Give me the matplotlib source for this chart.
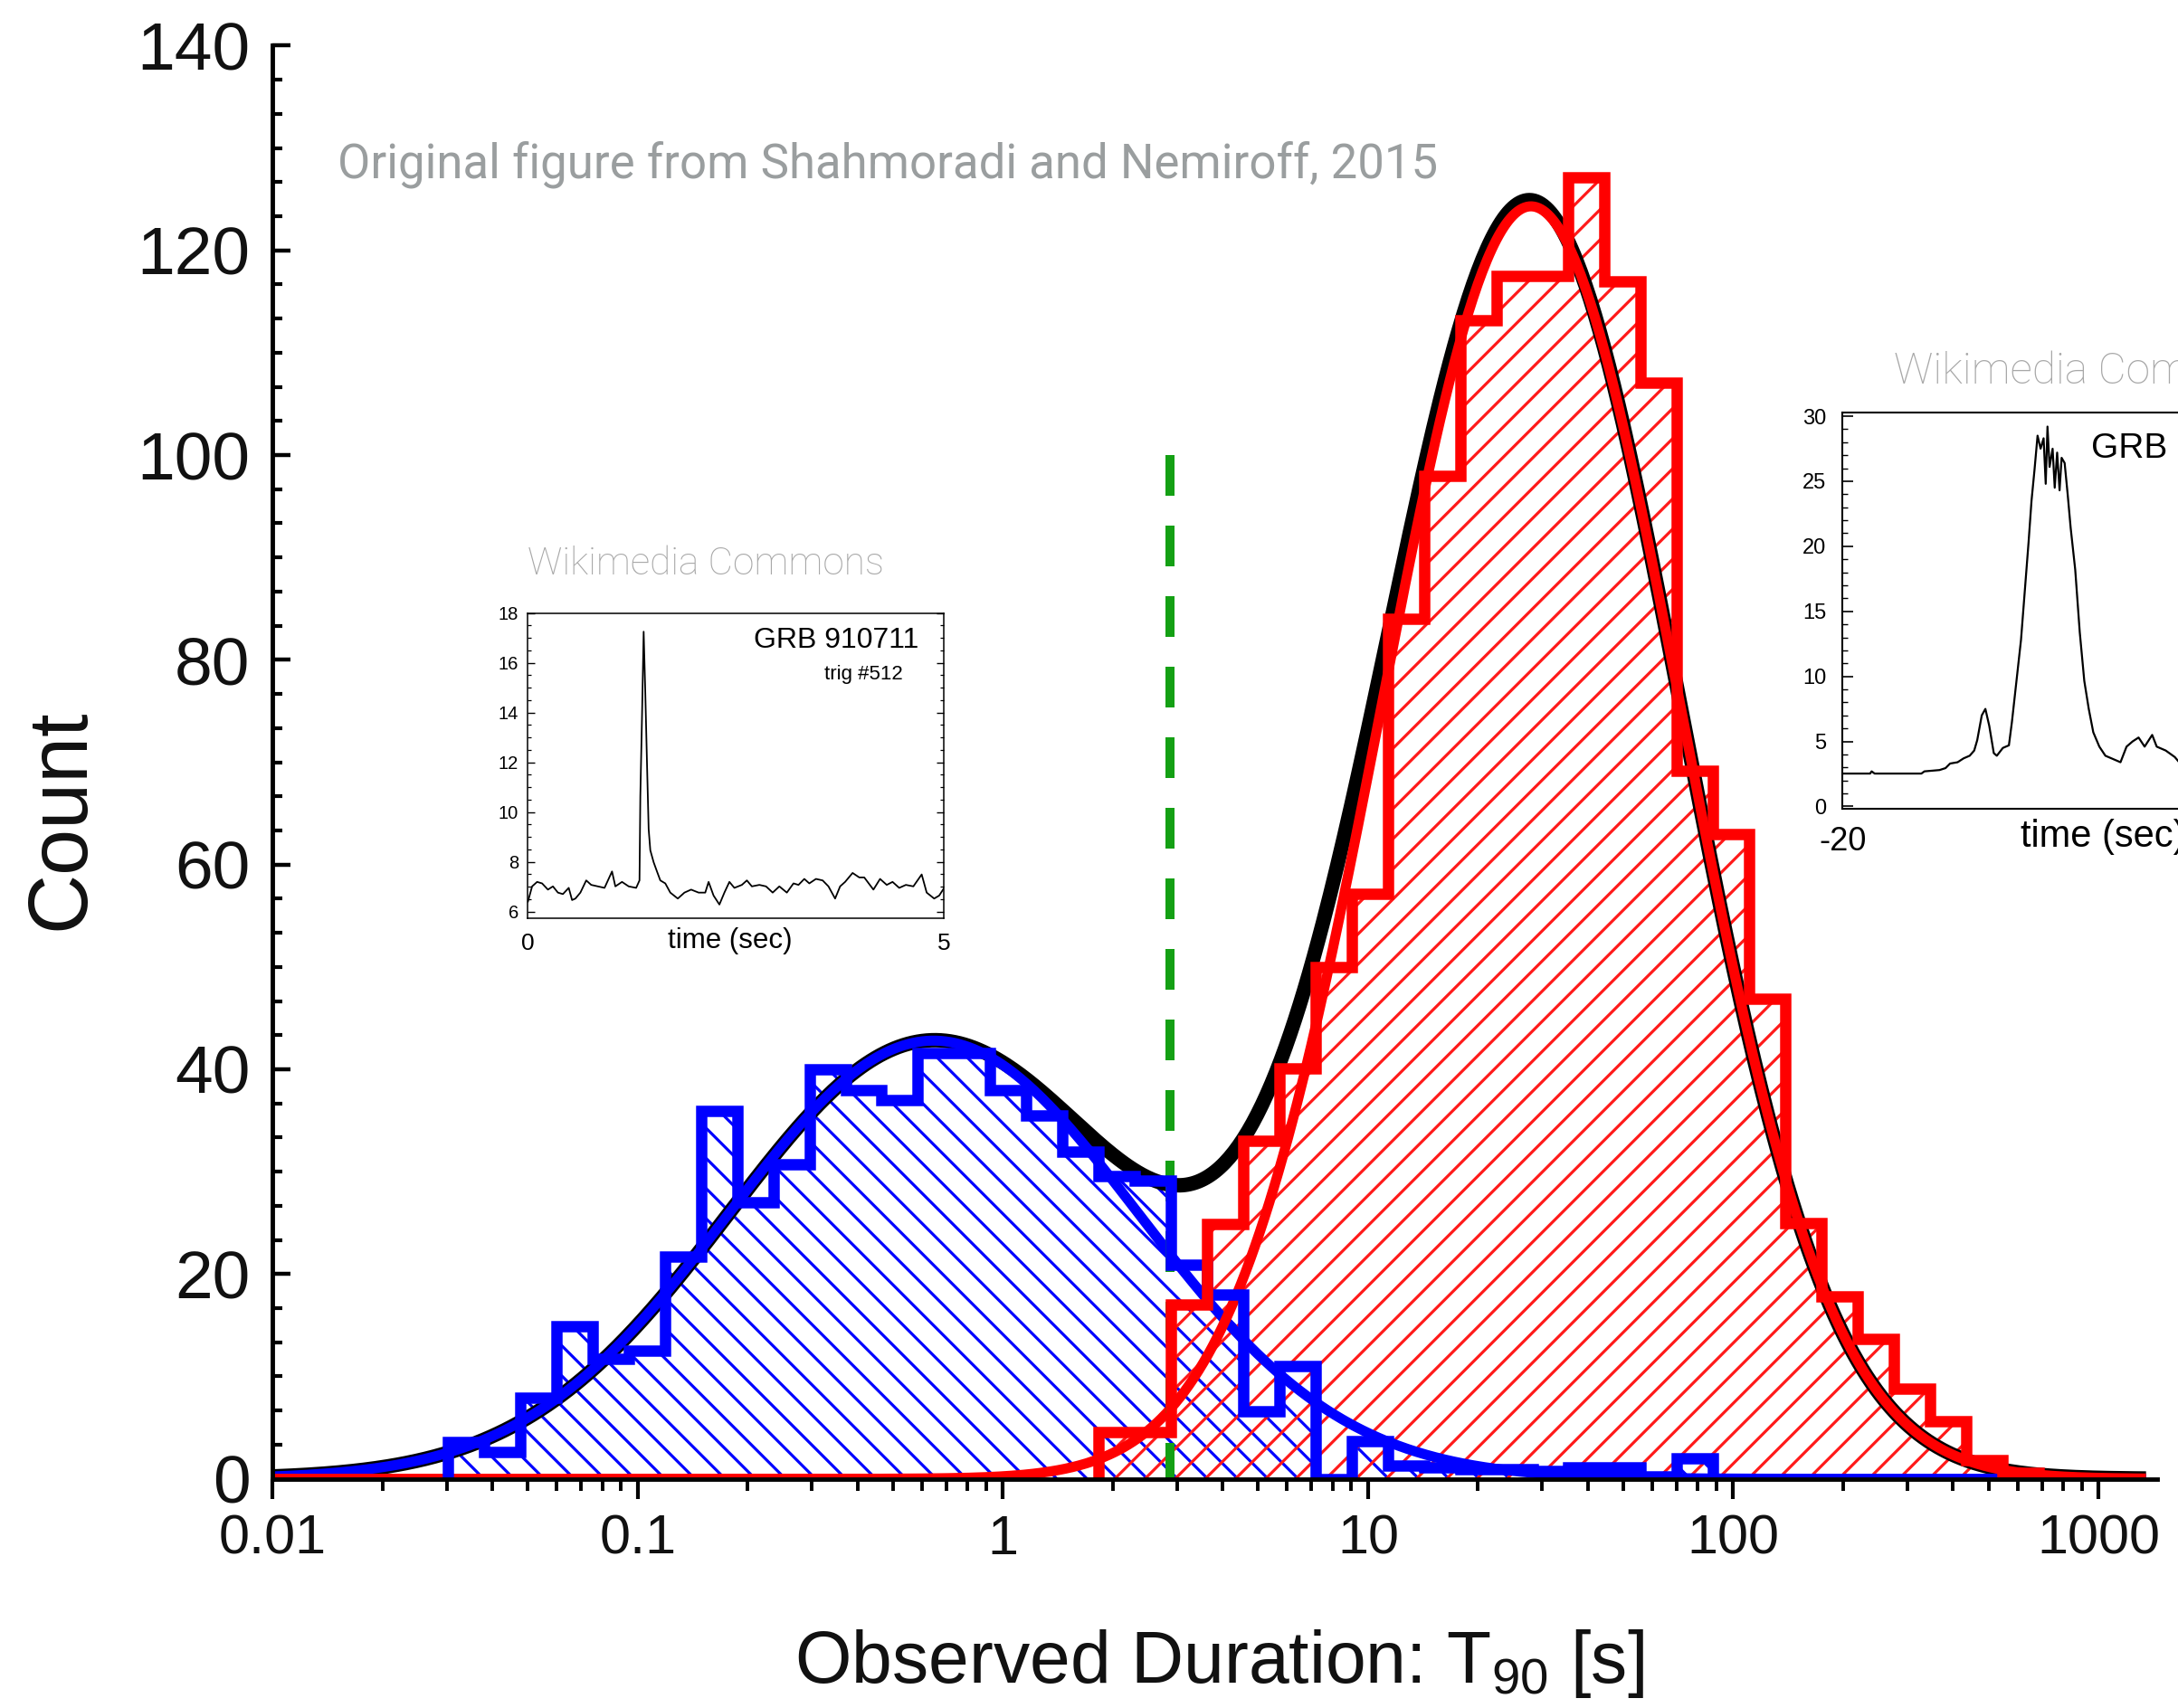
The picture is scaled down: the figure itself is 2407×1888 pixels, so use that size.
### Bimodal T90 distribution of BATSE gamma-ray bursts, with two light-curve insets ###

### IMPORTING LIBRARIES ###
import numpy as np
import matplotlib
matplotlib.use('Agg')
import matplotlib.pyplot as plt
from matplotlib.ticker import FixedLocator, MultipleLocator, LogLocator, NullFormatter

plt.rcParams['font.family'] = ['Liberation Sans', 'DejaVu Sans']
plt.rcParams['mathtext.fontset'] = 'custom'
plt.rcParams['mathtext.rm'] = 'Liberation Sans'
plt.rcParams['mathtext.it'] = 'Liberation Sans:italic'
plt.rcParams['hatch.linewidth'] = 2.3

### DATA ###
# both histograms share one grid of log10(T90) bins
bin_start = -1.52
bin_width = 0.099

short_first_bin = 0
short_counts = [3.6, 2.6, 7.9, 14.9, 11.7, 12.5, 21.7, 35.9, 27.0, 30.7,
                40.0, 38.0, 37.0, 41.6, 41.6, 38.0, 35.5, 32.0, 29.6, 29.1,
                20.9, 18.0, 6.6, 11.0, 0.0, 3.7, 1.3, 1.1, 0.9, 0.9,
                0.8, 1.1, 1.1, 0.2, 2.0]

long_first_bin = 18
long_counts = [4.6, 4.6, 17.0, 24.9, 33.0, 40.1, 50.0, 57.1, 84.0, 98.0,
               113.2, 117.5, 117.5, 127.1, 117.0, 107.1, 69.2, 63.0, 46.9, 25.0,
               17.8, 13.7, 8.8, 5.6, 1.8, 0.6]

# log-normal fits: amplitude, log10 mean, log10 sigma
short_fit = (42.8, -0.19, 0.56)
long_fit = (124.3, 1.446, 0.41)
fit_range = (0.01, 1350)

divide_t90 = 2.87
divide_top = 100

yticks = [0, 20, 40, 60, 80, 100, 120, 140]
xticks = [0.01, 0.1, 1, 10, 100, 1000]
xticklabels = ['0.01', '0.1', '1', '10', '100', '1000']

# GRB 910711 (short burst) light curve
short_grb_time = [0, 0.05, 0.11, 0.17, 0.24, 0.30, 0.36, 0.42, 0.49, 0.53,
                  0.57, 0.63, 0.70, 0.76, 0.84, 0.92, 1.01, 1.05, 1.13, 1.21,
                  1.30, 1.34, 1.35, 1.37, 1.39, 1.41, 1.43, 1.45, 1.47, 1.51,
                  1.55, 1.59, 1.65, 1.71, 1.80, 1.88, 1.96, 2.05, 2.13, 2.17,
                  2.23, 2.30, 2.36, 2.42, 2.48, 2.57, 2.63, 2.69, 2.78, 2.86,
                  2.94, 3.02, 3.11, 3.19, 3.25, 3.32, 3.38, 3.46, 3.54, 3.61,
                  3.69, 3.75, 3.81, 3.90, 3.98, 4.04, 4.15, 4.23, 4.31, 4.38,
                  4.46, 4.54, 4.63, 4.73, 4.79, 4.88, 4.94, 5.0]
short_grb_rate = [6.40, 7.01, 7.19, 7.13, 6.88, 7.01, 6.76, 6.70, 6.95, 6.46,
                  6.52, 6.76, 7.25, 7.07, 7.01, 6.95, 7.61, 7.01, 7.19, 7.01,
                  6.95, 7.25, 10.64, 13.79, 17.25, 14.76, 11.98, 9.31, 8.46, 7.98,
                  7.61, 7.25, 7.13, 6.76, 6.52, 6.76, 6.88, 6.76, 6.76, 7.19,
                  6.64, 6.28, 6.76, 7.19, 6.95, 7.07, 7.25, 7.01, 7.07, 7.01,
                  6.76, 7.01, 6.76, 7.13, 7.07, 7.31, 7.13, 7.31, 7.25, 7.01,
                  6.52, 7.01, 7.19, 7.55, 7.37, 7.37, 6.88, 7.31, 7.07, 7.19,
                  6.95, 7.07, 7.01, 7.49, 6.76, 6.52, 6.64, 6.95]

# long burst light curve (right inset, cut by the figure edge)
long_grb_time = [-20, -15.78, -15.55, -15.09, -7.98, -7.51, -5.22, -4.30, -3.61, -2.47,
                 -1.55, -0.63, 0.06, 0.52, 1.21, 1.76, 2.35, 3.04, 3.50, 4.42,
                 5.34, 5.80, 6.49, 7.18, 7.64, 8.33, 8.78, 9.24, 9.70, 10.16,
                 10.62, 10.94, 11.21, 11.53, 11.99, 12.31, 12.68, 13.05, 13.36, 13.82,
                 14.28, 14.74, 15.43, 16.12, 16.81, 17.49, 18.18, 19.10, 20.02, 20.94,
                 22.32, 23.24, 24.16, 25.07, 25.99, 27.14, 27.83, 29.20, 30.58, 31.08]
long_grb_rate = [2.53, 2.53, 2.70, 2.53, 2.53, 2.70, 2.80, 2.95, 3.30, 3.40,
                 3.70, 3.90, 4.30, 5.10, 7.00, 7.50, 6.20, 4.10, 3.90, 4.50,
                 4.70, 6.50, 9.65, 12.8, 15.8, 20.3, 23.5, 25.9, 28.5, 27.5,
                 28.3, 24.8, 29.2, 26.1, 27.5, 24.5, 27.2, 24.3, 26.8, 26.4,
                 24.0, 21.4, 18.2, 13.4, 9.65, 7.50, 5.70, 4.60, 3.90, 3.70,
                 3.40, 4.60, 5.00, 5.30, 4.60, 5.50, 4.60, 4.30, 3.80, 3.50]


### HELPERS ###
def bin_edges(first_bin, n_bins):
    k = np.arange(first_bin, first_bin + n_bins + 1)
    return 10 ** (bin_start + bin_width * k)


def lognormal(x, fit):
    amp, mu, sigma = fit
    return amp * np.exp(-(np.log10(x) - mu) ** 2 / (2 * sigma ** 2))


### FIGURE ###
fig = plt.figure(figsize=(24.07, 18.88), dpi=100)
ax = fig.add_axes([0.1252, 0.1342, 0.8748, 0.8391])
ax.set_xscale('log')
ax.set_xlim(0.01, 1652)
ax.set_ylim(0, 140)

short_edges = bin_edges(short_first_bin, len(short_counts))
long_edges = bin_edges(long_first_bin, len(long_counts))

### HATCHED AREAS ###
ax.stairs(short_counts, short_edges, fill=True, facecolor='none',
          edgecolor='#0000ff', linewidth=0, hatch='\\', zorder=1)
ax.stairs(long_counts, long_edges, fill=True, facecolor='none',
          edgecolor='#ff1a1a', linewidth=0, hatch='/', zorder=1.1)

### FIT CURVES ###
x_fit = np.logspace(np.log10(fit_range[0]), np.log10(fit_range[1]), 800)
short_curve = lognormal(x_fit, short_fit)
long_curve = lognormal(x_fit, long_fit)
ax.plot(x_fit, short_curve + long_curve, color='black', lw=11.5, zorder=2,
        solid_capstyle='butt')
ax.plot(x_fit, short_curve, color='#0000ff', lw=8, zorder=3, solid_capstyle='butt')
ax.plot(x_fit, long_curve, color='#ff0000', lw=8, zorder=3, solid_capstyle='butt')

### DIVIDING LINE ###
ax.plot([divide_t90, divide_t90], [divide_top, 0], color='#14a014', lw=7.2,
        linestyle=(0, (4.5, 3.3)), dash_capstyle='butt', zorder=3.5)

### HISTOGRAM OUTLINES ###
ax.stairs(short_counts, short_edges, baseline=0, color='#0000ff', linewidth=9,
          joinstyle='miter', zorder=4)
ax.stairs(long_counts, long_edges, baseline=0, color='#ff0000', linewidth=9,
          joinstyle='miter', zorder=4.1)

### AXES STYLE ###
for side in ['top', 'right']:
    ax.spines[side].set_visible(False)
ax.spines['left'].set_linewidth(3.5)
ax.spines['bottom'].set_linewidth(3.5)
ax.spines['bottom'].set_bounds(0.01, 1450)
ax.spines['left'].set_zorder(5)
ax.spines['bottom'].set_zorder(5)

ax.yaxis.set_major_locator(FixedLocator(yticks))
ax.yaxis.set_minor_locator(MultipleLocator(20 / 6))
ax.tick_params(axis='y', which='major', direction='in', length=14.5, width=3.2,
               labelsize=54, pad=18, labelcolor='#111111')
ax.tick_params(axis='y', which='minor', direction='in', length=8, width=3)

ax.xaxis.set_major_locator(FixedLocator(xticks))
ax.set_xticklabels(xticklabels)
ax.xaxis.set_minor_locator(LogLocator(base=10, subs=np.arange(2, 10)))
ax.xaxis.set_minor_formatter(NullFormatter())
ax.tick_params(axis='x', which='major', direction='out', length=16, width=3,
               labelsize=44, pad=12, labelcolor='#111111')
ax.tick_params(axis='x', which='minor', direction='out', length=9.5, width=2.8)

fig.text(0.0382, 0.520, 'Count', rotation=90, rotation_mode='anchor',
         ha='center', va='baseline', fontsize=66, color='#111111')
fig.text(0.5596, 0.0146, 'Observed Duration: T$_{90}$ [s]', ha='center',
         va='baseline', fontsize=58, color='#111111')

### CREDIT TEXTS ###
fig.text(373 / 2407, 0.8959, 'Original figure from Shahmoradi and Nemiroff, 2015',
         fontsize=38, color='#9a9e9f', family='Roboto', va='baseline')
fig.text(0.2424, 0.6637, 'Wikimedia Commons', fontsize=30.5, color='#a8a8a8',
         family='Roboto', fontweight='light', va='baseline')
fig.text(0.8696, 0.7756, 'Wikimedia Commons', fontsize=34.5, color='#a8a8a8',
         family='Roboto', fontweight='light', va='baseline')

### LEFT INSET: SHORT BURST ###
ins1 = fig.add_axes([0.2424, 0.4624, 0.1911, 0.1787])
ins1.plot(short_grb_time, short_grb_rate, color='black', lw=1.3)
ins1.set_xlim(0, 5)
ins1.set_ylim(5.73, 18)
ins1.set_yticks([6, 8, 10, 12, 14, 16, 18])
ins1.yaxis.set_minor_locator(MultipleLocator(0.5))
ins1.tick_params(axis='y', which='both', direction='in', left=True, right=True)
ins1.tick_params(axis='y', which='major', length=5.8, width=1, labelsize=14.5, pad=7.5)
ins1.tick_params(axis='y', which='minor', length=2.9, width=0.9)
ins1.set_xticks([])
for sp in ins1.spines.values():
    sp.set_linewidth(1.1)
xt1 = ins1.get_xaxis_transform()
ins1.text(0, -0.083, '0', transform=xt1, ha='center', va='center', fontsize=19)
ins1.text(5, -0.083, '5', transform=xt1, ha='center', va='center', fontsize=19)
ins1.text(0.485, -0.074, 'time (sec)', transform=ins1.transAxes, ha='center',
          va='center', fontsize=22.5)
ins1.text(0.94, 0.91, 'GRB 910711', transform=ins1.transAxes, ha='right',
          va='center', fontsize=23)
ins1.text(0.901, 0.80, 'trig #512', transform=ins1.transAxes, ha='right',
          va='center', fontsize=16)

### RIGHT INSET: LONG BURST ###
ins2 = fig.add_axes([0.8459, 0.5263, 0.2414, 0.2321])
ins2.plot(long_grb_time, long_grb_rate, color='black', lw=1.6)
ins2.set_xlim(-20, 60)
ins2.set_ylim(-0.2, 30.27)
ins2.set_yticks([0, 5, 10, 15, 20, 25, 30])
ins2.yaxis.set_minor_locator(MultipleLocator(1))
ins2.tick_params(axis='y', which='both', direction='in', left=True, right=True)
ins2.tick_params(axis='y', which='major', length=8.6, width=1.2, labelsize=17, pad=13)
ins2.tick_params(axis='y', which='minor', length=4.3, width=1)
ins2.set_xticks([])
for sp in ins2.spines.values():
    sp.set_linewidth(1.5)
xt2 = ins2.get_xaxis_transform()
ins2.text(-20, -0.083, '-20', transform=xt2, ha='center', va='center', fontsize=26)
ins2.text(0.339, -0.07, 'time (sec)', transform=ins2.transAxes, ha='left',
          va='center', fontsize=30)
ins2.text(0.474, 0.908, 'GRB', transform=ins2.transAxes, ha='left',
          va='center', fontsize=28)

fig.savefig('out.png', dpi=100)
